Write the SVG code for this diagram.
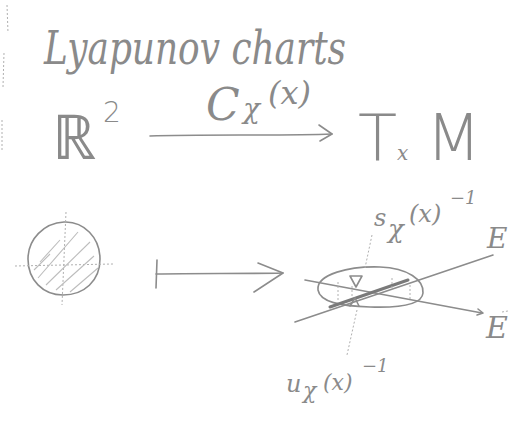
<svg xmlns="http://www.w3.org/2000/svg" width="516" height="423" viewBox="0 0 516 423">
<style>
.p{fill:none;stroke:#8c8c8c;stroke-width:1.6;stroke-linecap:round;stroke-linejoin:round}
.f{fill:none;stroke:#b0b0b0;stroke-width:1;stroke-dasharray:2 2}
.h{fill:none;stroke:#bdbdbd;stroke-width:1.1}
.t{fill:#8a8a8a;font-family:"DejaVu Serif","Liberation Serif",serif;font-style:italic}
.u{fill:#8a8a8a;font-family:"DejaVu Sans","Liberation Sans",sans-serif;font-weight:200}
</style>
<rect width="516" height="423" fill="#ffffff"/>
<g id="margin">
<path class="f" d="M7 5 L8 33 M4 53 L3 87 M2 120 L2 150"/>
</g>
<g id="title"><text class="t" x="44" y="64" font-size="46" textLength="302" lengthAdjust="spacingAndGlyphs">Lyapunov charts</text></g>
<g id="R2"><text class="u" x="52" y="159" font-size="62">ℝ</text><text class="u" x="103" y="122" font-size="28">2</text></g>
<g id="TxM"><text class="u" x="358" y="160" font-size="64">T</text><text class="t" x="397" y="160" font-size="20">x</text><text class="u" x="426" y="160" font-size="64">M</text></g>
<g id="chart-label"><text class="t" x="206" y="120" font-size="44">C</text><text class="t" x="243" y="118" font-size="28">χ</text><text class="t" x="268" y="104" font-size="32">(x)</text></g>
<g id="disk">
<path class="p" d="M64 222 C84 221 100 238 100 259 C100 281 84 295 63 295 C43 295 28 280 28 259 C28 239 44 223 64 222 Z"/>
<path class="f" d="M15 266 L113 264 M66 212 L62 305"/>
<path class="h" d="M40 262 L60 240 M38 278 L78 232 M46 285 L90 242 M56 290 L94 256 M70 292 L98 268 M34 270 L50 254"/>
</g>
<g id="ellipse-fig">
<path class="p" d="M318 290 C316 274 350 266 380 267 C408 268 424 280 423 293 C422 305 400 308 370 307 C340 306 320 302 318 290 Z"/>
<path class="p" d="M295 322 L493 255"/>
<path class="p" d="M305 280 L482 313"/>
<path class="p" d="M478 309 L483 313 L477 315"/>
<path fill="none" stroke="#7a7a7a" stroke-width="3" stroke-linecap="round" d="M330 307 L408 280"/>
<path class="p" stroke-width="1.2" d="M350 276 L362 276 L356 287 Z M350 306 L355 298 L359 306"/>
<path class="f" d="M338 282 L338 300 M352 286 L352 296 M392 278 L392 290 M410 285 L410 300"/>
<path class="f" d="M372 235 L365 268 M357 310 L347 355"/>
</g>
<g id="Es-label"><text class="t" x="487" y="248" font-size="28">E</text></g>
<g id="Eu-label"><text class="t" x="486" y="338" font-size="30">E</text><path class="f" d="M502 312 L508 311"/></g>
<g id="s-label"><text class="t" x="374" y="226" font-size="24">s</text><text class="t" x="388" y="238" font-size="26">χ</text><text class="t" x="409" y="222" font-size="24">(x)</text><text class="t" x="450" y="204" font-size="18">−1</text></g>
<g id="u-label"><text class="t" x="286" y="392" font-size="24">u</text><text class="t" x="303" y="398" font-size="22">χ</text><text class="t" x="323" y="390" font-size="22">(x)</text><text class="t" x="362" y="372" font-size="18">−1</text></g>
<g id="connectors">
<path class="p" d="M150 136 C200 134 280 136 332 134"/>
<path class="p" d="M319 125 L332 134 L320 141"/>
<path class="p" d="M157 260 L156 288"/>
<path class="p" d="M156 274 C200 273 240 274 283 273"/>
<path class="p" d="M258 263 L283 273 L254 292"/>
</g>
</svg>
